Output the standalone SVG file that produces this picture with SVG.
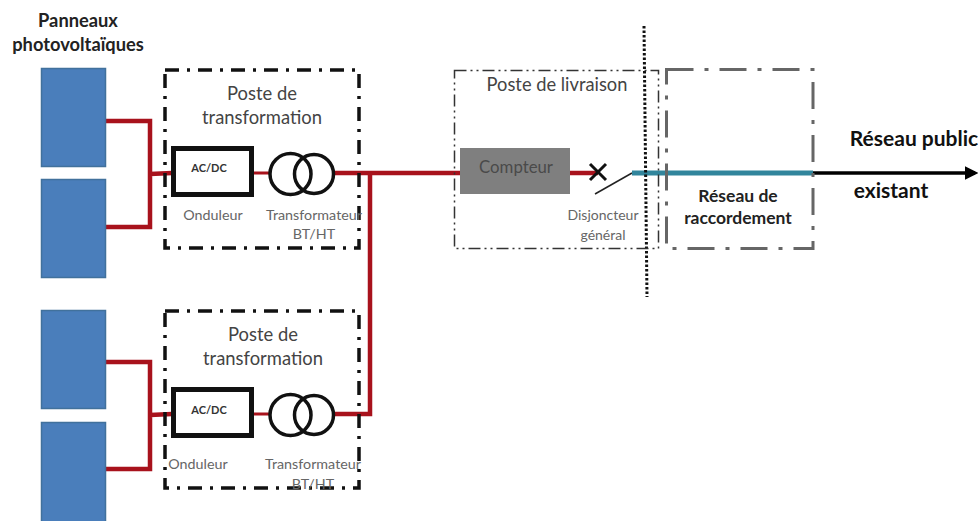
<svg xmlns="http://www.w3.org/2000/svg" width="978" height="521" viewBox="0 0 978 521">
<style>
text{font-family:Lato,"Open Sans","Liberation Sans",sans-serif;text-anchor:middle;fill:#444}
.b{font-weight:700;fill:#222}
.t{font-size:18.400px}
.s{font-size:14.300px;fill:#666}
.ac{font-size:11px;font-weight:700;fill:#333}
.panel{fill:#4a7ebb;stroke:#41719c;stroke-width:1.5}
.red{fill:none;stroke:#a8121c;stroke-width:4.5}
.thin{stroke-width:3}
.box{fill:none;stroke:#111;stroke-width:3.5;stroke-dasharray:14 8 3 8}
.ond{fill:#fff;stroke:#111;stroke-width:5}
.coil{fill:none;stroke:#111;stroke-width:3.5}
</style>
<defs>
<marker id="arr" markerWidth="4" markerHeight="4" refX="3" refY="2" orient="auto"><path d="M0,0L4,2L0,4z" fill="#000"/></marker>
</defs>
<rect width="978" height="521" fill="#fff"/>
<g id="connectors">
<path class="red" d="M106 121H150V227H106M150 174L172 173"/>
<path class="red" d="M106 362H150V469H106M150 415L172 414"/>
<path class="red thin" d="M254 173H270M254 414H270"/>
<path class="red" d="M335 173H460M370 173V414H335"/>
<path class="red" d="M570 173H598"/>
<path d="M595 194L632 173" fill="none" stroke="#222" stroke-width="1.5"/>
<path d="M813 173H975" fill="none" stroke="#000" stroke-width="3.5" marker-end="url(#arr)"/>
<path d="M632 173H813" fill="none" stroke="#31859c" stroke-width="5"/>
<path d="M644 26L647 297" fill="none" stroke="#111" stroke-width="3" stroke-dasharray="2.5 2"/>
</g>
<g id="panneaux-label"><text class="b" x="78" y="27" font-size="18.300">Panneaux</text><text class="b" x="78" y="51" font-size="18.300">photovoltaïques</text></g>
<g id="panel-1"><rect class="panel" x="41.500" y="68.500" width="64" height="98"/></g>
<g id="panel-2"><rect class="panel" x="41.500" y="179.500" width="64" height="98"/></g>
<g id="panel-3"><rect class="panel" x="41.500" y="310.500" width="64" height="98"/></g>
<g id="panel-4"><rect class="panel" x="41.500" y="422.500" width="64" height="102"/></g>
<g id="poste-1">
<rect class="box" x="165" y="70" width="194" height="178"/>
<text class="t" x="262" y="100">Poste de</text><text class="t" x="262" y="124">transformation</text>
</g>
<g id="onduleur-1"><rect class="ond" x="173.500" y="148.500" width="78" height="46"/><text class="ac" x="209" y="172">AC/DC</text><text class="s" x="213" y="220">Onduleur</text></g>
<g id="transfo-1"><circle class="coil" cx="290.500" cy="174" r="20.500"/><circle class="coil" cx="314" cy="174" r="19.500"/><text class="s" x="314" y="220">Transformateur</text><text class="s" x="314" y="239">BT/HT</text></g>
<g id="poste-2">
<rect class="box" x="165" y="311" width="194" height="177"/>
<text class="t" x="263" y="341">Poste de</text><text class="t" x="263" y="365">transformation</text>
</g>
<g id="onduleur-2"><rect class="ond" x="173.500" y="389.500" width="78" height="46"/><text class="ac" x="209" y="414">AC/DC</text><text class="s" x="198" y="469">Onduleur</text></g>
<g id="transfo-2"><circle class="coil" cx="290.500" cy="415" r="20.500"/><circle class="coil" cx="314" cy="415" r="19.500"/><text class="s" x="313" y="469">Transformateur</text><text class="s" x="313" y="489">BT/HT</text></g>
<g id="poste-livraison">
<rect x="454.500" y="70.500" width="204" height="178" fill="none" stroke="#333" stroke-width="1.500" stroke-dasharray="12 4 2 4 2 4"/>
<text x="557" y="91" font-size="18.300">Poste de livraison</text>
</g>
<g id="compteur"><rect x="460" y="148" width="110" height="46" fill="#7f7f7f"/><text x="516" y="173" font-size="16.800" style="fill:#4a4a4a">Compteur</text></g>
<g id="disjoncteur">
<path d="M590 164L606 180M606 164L590 180" stroke="#111" stroke-width="3" fill="none"/>
<text x="603" y="220" font-size="14" style="fill:#666">Disjoncteur</text><text x="603" y="240" font-size="14" style="fill:#666">général</text>
</g>
<g id="reseau-raccordement">
<rect x="666.500" y="69.500" width="146.500" height="179" fill="none" stroke="#666" stroke-width="3" stroke-dasharray="27 11 4 11"/>
<text class="b" x="738" y="202" font-size="17.500">Réseau de</text><text class="b" x="738" y="224" font-size="17.500">raccordement</text>
</g>
<g id="reseau-public">
<text x="914" y="146" font-size="21" style="font-weight:700;fill:#111">Réseau public</text>
<text x="891" y="198" font-size="21" style="font-weight:700;fill:#111">existant</text>
</g>
</svg>
